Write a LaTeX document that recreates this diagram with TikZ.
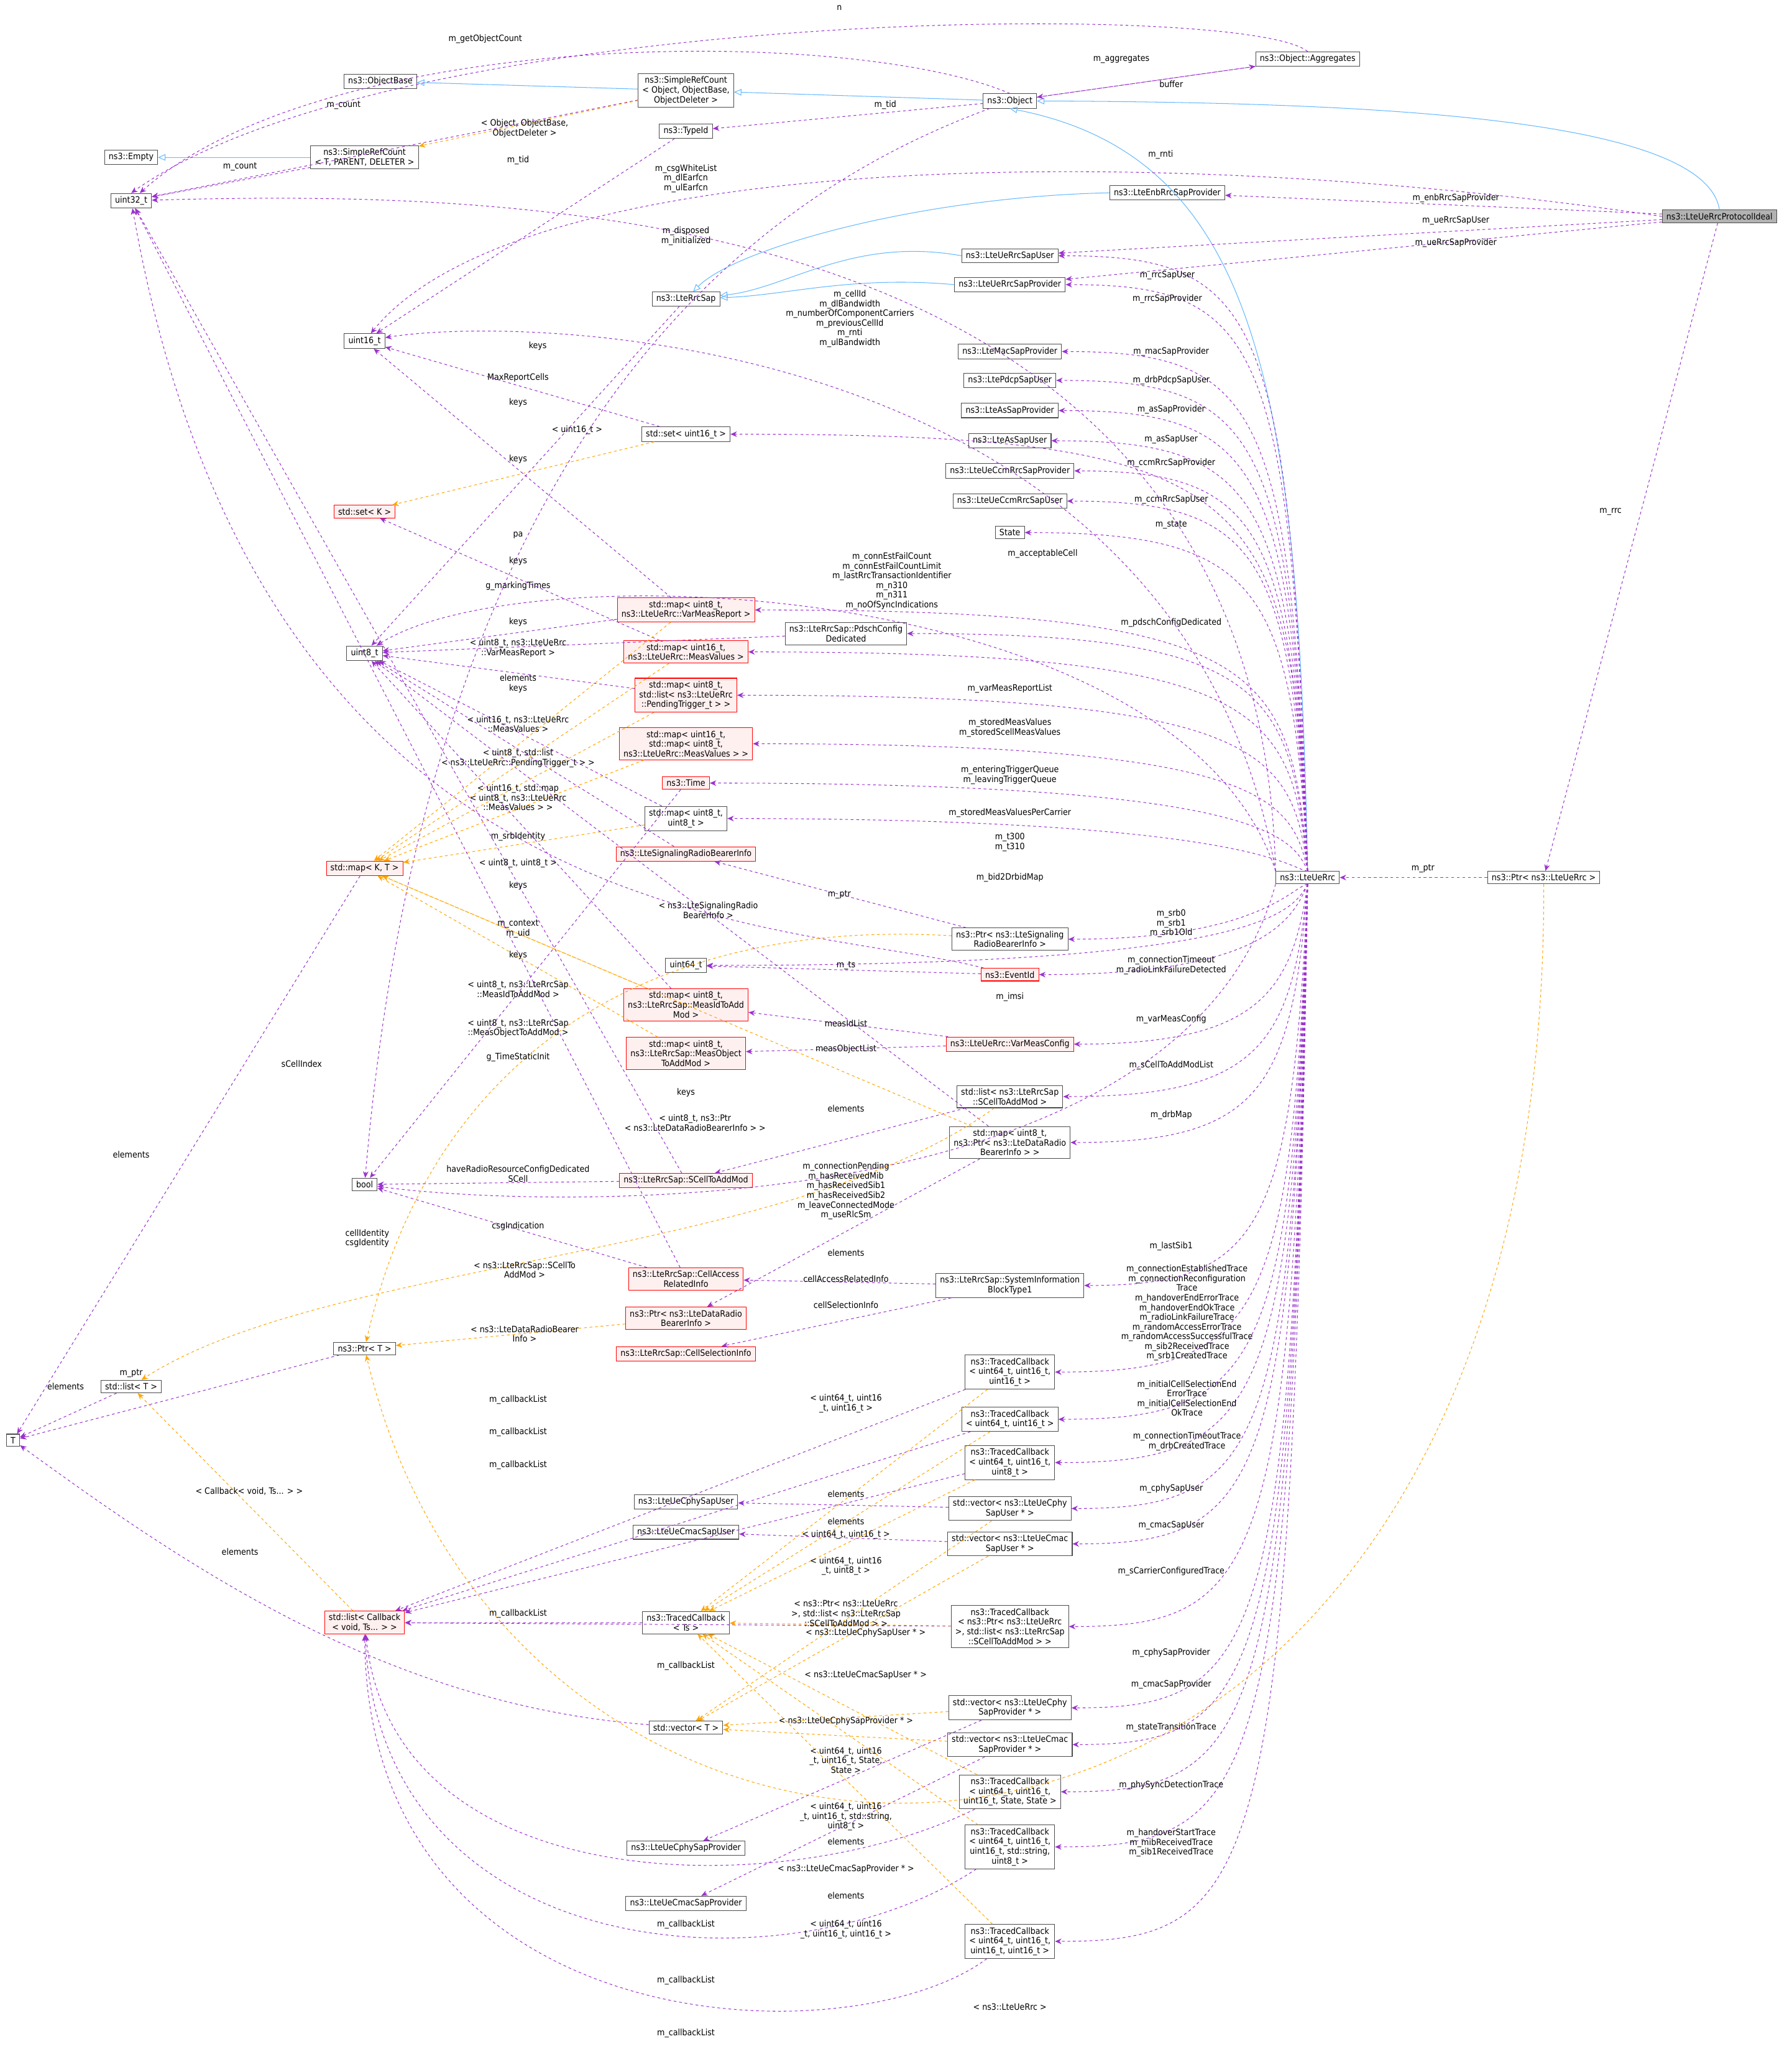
\documentclass[tikz,border=0pt]{standalone}
\usepackage{fontspec}
\setmainfont{DejaVu Sans Condensed}
\usetikzlibrary{arrows.meta}
\definecolor{dpurple}{HTML}{9A32CD}
\definecolor{dorange}{HTML}{FFA500}
\definecolor{lblue}{HTML}{63B8FF}
\definecolor{pinkf}{HTML}{FFF0F0}
\newcommand{\nf}{\fontsize{9.5}{10.5}\selectfont}
\tikzset{
 box/.style={draw=gray!60!black, fill=white, font=\nf, inner xsep=4.5pt, inner ysep=3.2pt, align=center, line width=0.7pt},
 rbox/.style={box, draw=red, fill=pinkf},
 lb/.style={font=\nf, align=center, inner sep=1pt},
 mem/.style={draw=dpurple, dashed, line width=0.7pt, -{Stealth[length=7pt,width=6pt]}},
 tmpl/.style={draw=dorange, dashed, line width=0.7pt, -{Stealth[length=7pt,width=6pt]}},
 inh/.style={draw=lblue, line width=0.7pt, -{Triangle[open,length=8pt,width=7pt]}},
}
\begin{document}
\begin{tikzpicture}[x=0.05cm,y=-0.05cm]
\useasboundingbox (0,0) rectangle (1366,1572);
% nodes
\node[box] (agg) at (997,45) {ns3::Object::Aggregates};
\node[box] (obj) at (770,77) {ns3::Object};
\node[box] (src) at (523,69) {ns3::SimpleRefCount\\< Object, ObjectBase,\\ObjectDeleter >};
\node[box] (ob) at (290,62) {ns3::ObjectBase};
\node[box] (empty) at (100,120) {ns3::Empty};
\node[box] (u32) at (100,153) {uint32\_t};
\node[box] (srt) at (278,120) {ns3::SimpleRefCount\\< T, PARENT, DELETER >};
\node[box] (tid) at (523,100) {ns3::TypeId};
\node[box] (enb) at (890,147) {ns3::LteEnbRrcSapProvider};
\node[box, fill=gray!60] (prot) at (1311,165) {ns3::LteUeRrcProtocolIdeal};
\node[box] (usu) at (770,195) {ns3::LteUeRrcSapUser};
\node[box] (sap) at (523,228) {ns3::LteRrcSap};
\node[box] (usp) at (770,217) {ns3::LteUeRrcSapProvider};
\node[box] (u16) at (278,260) {uint16\_t};
\node[box] (mac) at (770,268) {ns3::LteMacSapProvider};
\node[box] (pdcp) at (770,290) {ns3::LtePdcpSapUser};
\node[box] (asp) at (770,313) {ns3::LteAsSapProvider};
\node[box] (asu) at (770,336) {ns3::LteAsSapUser};
\node[box] (set16) at (523,331) {std::set< uint16\_t >};
\node[box] (ccmp) at (770,359) {ns3::LteUeCcmRrcSapProvider};
\node[box] (ccmu) at (770,382) {ns3::LteUeCcmRrcSapUser};
\node[rbox] (setk) at (278,390) {std::set< K >};
\node[box] (state) at (770,406) {State};
\node[rbox] (mvmr) at (523,465) {std::map< uint8\_t,\\ns3::LteUeRrc::VarMeasReport >};
\node[box] (pdsch) at (645,483) {ns3::LteRrcSap::PdschConfig\\Dedicated};
\node[box] (u8) at (278,498) {uint8\_t};
\node[rbox] (mmv) at (523,497) {std::map< uint16\_t,\\ns3::LteUeRrc::MeasValues >};
\node[rbox] (mpt) at (523,530) {std::map< uint8\_t,\\std::list< ns3::LteUeRrc\\::PendingTrigger\_t > >};
\node[rbox] (mmm) at (523,567) {std::map< uint16\_t,\\std::map< uint8\_t,\\ns3::LteUeRrc::MeasValues > >};
\node[rbox] (time) at (523,597) {ns3::Time};
\node[box] (m88) at (523,624) {std::map< uint8\_t,\\uint8\_t >};
\node[rbox] (mapkt) at (278,662) {std::map< K, T >};
\node[rbox] (srbi) at (523,651) {ns3::LteSignalingRadioBearerInfo};
\node[box] (rrc) at (997,669) {ns3::LteUeRrc};
\node[box] (prrc) at (1177,669) {ns3::Ptr< ns3::LteUeRrc >};
\node[box] (psrb) at (770,716) {ns3::Ptr< ns3::LteSignaling\\RadioBearerInfo >};
\node[box] (u64) at (523,736) {uint64\_t};
\node[rbox] (evt) at (770,743) {ns3::EventId};
\node[rbox] (mmid) at (523,766) {std::map< uint8\_t,\\ns3::LteRrcSap::MeasIdToAdd\\Mod >};
\node[rbox] (vmc) at (770,796) {ns3::LteUeRrc::VarMeasConfig};
\node[rbox] (mmo) at (523,803) {std::map< uint8\_t,\\ns3::LteRrcSap::MeasObject\\ToAddMod >};
\node[box] (lsc) at (770,836) {std::list< ns3::LteRrcSap\\::SCellToAddMod >};
\node[box] (mdrb) at (770,871) {std::map< uint8\_t,\\ns3::Ptr< ns3::LteDataRadio\\BearerInfo > >};
\node[box] (bool) at (278,903) {bool};
\node[rbox] (sc) at (523,900) {ns3::LteRrcSap::SCellToAddMod};
\node[rbox] (cari) at (523,975) {ns3::LteRrcSap::CellAccess\\RelatedInfo};
\node[box] (sib1) at (770,980) {ns3::LteRrcSap::SystemInformation\\BlockType1};
\node[rbox] (pdrb) at (523,1005) {ns3::Ptr< ns3::LteDataRadio\\BearerInfo >};
\node[rbox] (csi) at (523,1032) {ns3::LteRrcSap::CellSelectionInfo};
\node[box] (T) at (10,1098) {T};
\node[box] (ptrT) at (278,1028) {ns3::Ptr< T >};
\node[box] (listT) at (100,1057) {std::list< T >};
\node[box] (tc1) at (770,1046) {ns3::TracedCallback\\< uint64\_t, uint16\_t,\\uint16\_t >};
\node[box] (tc2) at (770,1082) {ns3::TracedCallback\\< uint64\_t, uint16\_t >};
\node[box] (tc3) at (770,1115) {ns3::TracedCallback\\< uint64\_t, uint16\_t,\\uint8\_t >};
\node[box] (cphyu) at (523,1145) {ns3::LteUeCphySapUser};
\node[box] (vcphyu) at (770,1150) {std::vector< ns3::LteUeCphy\\SapUser * >};
\node[box] (cmacu) at (523,1168) {ns3::LteUeCmacSapUser};
\node[box] (vcmacu) at (770,1177) {std::vector< ns3::LteUeCmac\\SapUser * >};
\node[rbox] (lcb) at (278,1237) {std::list< Callback\\< void, Ts... > >};
\node[box] (tcts) at (523,1237) {ns3::TracedCallback\\< Ts >};
\node[box] (tcp) at (770,1240) {ns3::TracedCallback\\< ns3::Ptr< ns3::LteUeRrc\\>, std::list< ns3::LteRrcSap\\::SCellToAddMod > >};
\node[box] (vecT) at (523,1317) {std::vector< T >};
\node[box] (vcphyp) at (770,1302) {std::vector< ns3::LteUeCphy\\SapProvider * >};
\node[box] (vcmacp) at (770,1330) {std::vector< ns3::LteUeCmac\\SapProvider * >};
\node[box] (tcs) at (770,1366) {ns3::TracedCallback\\< uint64\_t, uint16\_t,\\uint16\_t, State, State >};
\node[box] (tcstr) at (770,1408) {ns3::TracedCallback\\< uint64\_t, uint16\_t,\\uint16\_t, std::string,\\uint8\_t >};
\node[box] (cphyp) at (523,1409) {ns3::LteUeCphySapProvider};
\node[box] (cmacp) at (523,1451) {ns3::LteUeCmacSapProvider};
\node[box] (tc4) at (770,1480) {ns3::TracedCallback\\< uint64\_t, uint16\_t,\\uint16\_t, uint16\_t >};

% inheritance
\draw[inh] (src) -- (ob);
\draw[inh] (obj) -- (src);
\draw[inh] (srt) -- (empty);
\draw[inh] (prot.north) .. controls (1300,90) and (1050,78) .. (obj.east);
\draw[inh] (rrc.north) .. controls (990,300) and (960,120) .. (obj.south);
\draw[inh] (enb.west) .. controls (700,150) and (560,190) .. (sap);
\draw[inh] (usu.west) .. controls (650,180) and (600,220) .. (sap);
\draw[inh] (usp.west) .. controls (650,210) and (600,225) .. (sap);

% top members
\draw[mem] (agg.north) .. controls (950,0) and (300,5) .. (u32.north);
\draw[mem] (obj.north) .. controls (650,20) and (250,20) .. (u32);
\draw[mem] (obj) -- (agg);
\draw[mem] (agg) -- (obj);
\draw[mem] (obj) -- (tid);
\draw[mem] (obj) .. controls (600,140) and (330,300) .. (bool);
\draw[mem] (src) -- (u32);
\draw[mem] (srt) -- (u32);
\draw[tmpl] (src) -- (srt);
\draw[mem] (tid) -- (u16);
\draw[mem] (prot) -- (prrc);
\draw[mem] (prrc) -- (rrc);
\draw[mem] (prot.west) .. controls (900,110) and (400,110) .. (u16);
\draw[mem] (prot) -- (enb);
\draw[mem] (prot) -- (usu);
\draw[mem] (prot) -- (usp);

% LteUeRrc members
\draw[mem] (rrc.north west) .. controls (960,150) and (400,145) .. (u32);
\foreach \t/\y in {usu/195,usp/217,mac/268,pdcp/290,asp/313,asu/336,ccmp/359,ccmu/382,state/406,set16/331,pdsch/483,mvmr/465,mmv/497,mpt/530,mmm/567,time/597,m88/624}
  \draw[mem] (rrc.north) .. controls (985,\y+40) and (960,\y) .. (\t.east);
\foreach \t/\y in {psrb/716,evt/743,u64/736,vmc/796,lsc/836,mdrb/871,sib1/980,tc1/1046,tc2/1082,tc3/1115,vcphyu/1150,vcmacu/1177,tcp/1240,vcphyp/1302,vcmacp/1330,tcs/1366,tcstr/1408,tc4/1480}
  \draw[mem] (rrc.south) .. controls (985,\y-40) and (960,\y) .. (\t.east);
\draw[mem] (rrc.north west) .. controls (900,250) and (400,240) .. (u16);
\draw[mem] (rrc.north west) .. controls (900,440) and (400,420) .. (u8);
\draw[mem] (rrc.south west) .. controls (900,940) and (400,920) .. (bool);

% misc members
\draw[mem] (set16) -- (u16);
\draw[tmpl] (set16) -- (setk);
\draw[mem] (sap) -- (u8);
\draw[mem] (mvmr) -- (u16);
\draw[mem] (mmv) -- (setk);
\draw[mem] (pdsch) -- (u8);
\draw[mem] (mvmr) -- (u8);
\draw[mem] (time) -- (bool);
\draw[mem] (mpt) -- (u8);
\draw[mem] (m88) -- (u8);
\draw[tmpl] (mvmr) -- (mapkt);
\draw[tmpl] (mmv) -- (mapkt);
\draw[tmpl] (mpt) -- (mapkt);
\draw[tmpl] (mmm) -- (mapkt);
\draw[mem] (srbi) -- (u8);
\draw[tmpl] (m88) -- (mapkt);
\draw[mem] (mmid) -- (u8);
\draw[mem] (evt) .. controls (600,700) and (200,720) .. (u32);
\draw[tmpl] (psrb) .. controls (500,700) and (330,800) .. (ptrT);
\draw[mem] (psrb) -- (srbi);
\draw[mem] (evt) -- (u64);
\draw[tmpl] (mmid) -- (mapkt);
\draw[tmpl] (mmo) -- (mapkt);
\draw[mem] (vmc) -- (mmid);
\draw[mem] (vmc) -- (mmo);
\draw[mem] (mdrb) -- (u8);
\draw[mem] (sc) -- (u32);
\draw[tmpl] (mdrb) -- (mapkt);
\draw[mem] (lsc) -- (sc);
\draw[mem] (sc) -- (bool);
\draw[mem] (cari) -- (bool);
\draw[mem] (cari) -- (u32);
\draw[mem] (mdrb) -- (pdrb);
\draw[mem] (sib1) -- (cari);
\draw[mem] (sib1) -- (csi);
\draw[tmpl] (lsc) .. controls (600,960) and (250,960) .. (listT);
\draw[tmpl] (pdrb) -- (ptrT);
\draw[mem] (mapkt) -- (T);
\draw[mem] (ptrT) -- (T);
\draw[mem] (listT) -- (T);
\draw[tmpl] (lcb) -- (listT);
\draw[mem] (vecT) .. controls (300,1300) and (150,1200) .. (T);
\draw[mem] (tcts) -- (lcb);
\draw[mem] (tc1) -- (lcb);
\draw[mem] (tc2) -- (lcb);
\draw[mem] (tc3) -- (lcb);
\draw[mem] (tcp) -- (lcb);
\draw[mem] (tcs) .. controls (600,1450) and (300,1450) .. (lcb);
\draw[mem] (tcstr) .. controls (600,1520) and (290,1500) .. (lcb);
\draw[mem] (tc4) .. controls (650,1570) and (280,1560) .. (lcb);
\draw[mem] (vcphyu) -- (cphyu);
\draw[mem] (vcmacu) -- (cmacu);
\draw[mem] (vcphyp) -- (cphyp);
\draw[mem] (vcmacp) -- (cmacp);
\draw[tmpl] (tc1) -- (tcts);
\draw[tmpl] (tc2) -- (tcts);
\draw[tmpl] (tc3) -- (tcts);
\draw[tmpl] (tcp) -- (tcts);
\draw[tmpl] (vcphyu) -- (vecT);
\draw[tmpl] (vcmacu) -- (vecT);
\draw[tmpl] (vcphyp) -- (vecT);
\draw[tmpl] (tcs) -- (tcts);
\draw[tmpl] (tcstr) -- (tcts);
\draw[tmpl] (vcmacp) -- (vecT);
\draw[tmpl] (tc4) -- (tcts);
\draw[tmpl] (prrc) .. controls (1180,1530) and (400,1540) .. (ptrT);

% labels
\node[lb] at (640,6) {n};
\node[lb] at (370,30) {m\_getObjectCount};
\node[lb] at (855,45) {m\_aggregates};
\node[lb] at (893,64) {buffer};
\node[lb] at (675,80) {m\_tid};
\node[lb] at (523,180) {m\_disposed\\m\_initialized};
\node[lb] at (262,80) {m\_count};
\node[lb] at (183,127) {m\_count};
\node[lb] at (400,98) {< Object, ObjectBase,\\ObjectDeleter >};
\node[lb] at (395,122) {m\_tid};
\node[lb] at (1228,390) {m\_rrc};
\node[lb] at (1085,662) {m\_ptr};
\node[lb] at (885,118) {m\_rnti};
\node[lb] at (1110,151) {m\_enbRrcSapProvider};
\node[lb] at (1110,168) {m\_ueRrcSapUser};
\node[lb] at (1110,185) {m\_ueRrcSapProvider};
\node[lb] at (523,136) {m\_csgWhiteList\\m\_dlEarfcn\\m\_ulEarfcn};
\node[lb] at (890,210) {m\_rrcSapUser};
\node[lb] at (890,228) {m\_rrcSapProvider};
\node[lb] at (648,243) {m\_cellId\\m\_dlBandwidth\\m\_numberOfComponentCarriers\\m\_previousCellId\\m\_rnti\\m\_ulBandwidth};
\node[lb] at (893,268) {m\_macSapProvider};
\node[lb] at (893,290) {m\_drbPdcpSapUser};
\node[lb] at (893,312) {m\_asSapProvider};
\node[lb] at (893,335) {m\_asSapUser};
\node[lb] at (893,353) {m\_ccmRrcSapProvider};
\node[lb] at (893,381) {m\_ccmRrcSapUser};
\node[lb] at (893,400) {m\_state};
\node[lb] at (795,422) {m\_acceptableCell};
\node[lb] at (680,443) {m\_connEstFailCount\\m\_connEstFailCountLimit\\m\_lastRrcTransactionIdentifier\\m\_n310\\m\_n311\\m\_noOfSyncIndications};
\node[lb] at (893,475) {m\_pdschConfigDedicated};
\node[lb] at (770,525) {m\_varMeasReportList};
\node[lb] at (770,555) {m\_storedMeasValues\\m\_storedScellMeasValues};
\node[lb] at (770,591) {m\_enteringTriggerQueue\\m\_leavingTriggerQueue};
\node[lb] at (770,620) {m\_storedMeasValuesPerCarrier};
\node[lb] at (770,642) {m\_t300\\m\_t310};
\node[lb] at (770,669) {m\_bid2DrbidMap};
\node[lb] at (893,704) {m\_srb0\\m\_srb1\\m\_srb1Old};
\node[lb] at (893,736) {m\_connectionTimeout\\m\_radioLinkFailureDetected};
\node[lb] at (770,760) {m\_imsi};
\node[lb] at (893,777) {m\_varMeasConfig};
\node[lb] at (893,812) {m\_sCellToAddModList};
\node[lb] at (893,850) {m\_drbMap};
\node[lb] at (645,908) {m\_connectionPending\\m\_hasReceivedMib\\m\_hasReceivedSib1\\m\_hasReceivedSib2\\m\_leaveConnectedMode\\m\_useRlcSm};
\node[lb] at (893,950) {m\_lastSib1};
\node[lb] at (905,1001) {m\_connectionEstablishedTrace\\m\_connectionReconfiguration\\Trace\\m\_handoverEndErrorTrace\\m\_handoverEndOkTrace\\m\_radioLinkFailureTrace\\m\_randomAccessErrorTrace\\m\_randomAccessSuccessfulTrace\\m\_sib2ReceivedTrace\\m\_srb1CreatedTrace};
\node[lb] at (905,1066) {m\_initialCellSelectionEnd\\ErrorTrace\\m\_initialCellSelectionEnd\\OkTrace};
\node[lb] at (905,1099) {m\_connectionTimeoutTrace\\m\_drbCreatedTrace};
\node[lb] at (893,1135) {m\_cphySapUser};
\node[lb] at (893,1163) {m\_cmacSapUser};
\node[lb] at (893,1198) {m\_sCarrierConfiguredTrace};
\node[lb] at (893,1260) {m\_cphySapProvider};
\node[lb] at (893,1284) {m\_cmacSapProvider};
\node[lb] at (893,1317) {m\_stateTransitionTrace};
\node[lb] at (893,1361) {m\_phySyncDetectionTrace};
\node[lb] at (893,1405) {m\_handoverStartTrace\\m\_mibReceivedTrace\\m\_sib1ReceivedTrace};
\node[lb] at (410,264) {keys};
\node[lb] at (440,328) {< uint16\_t >};
\node[lb] at (395,288) {MaxReportCells};
\node[lb] at (395,307) {keys};
\node[lb] at (395,350) {keys};
\node[lb] at (395,408) {pa};
\node[lb] at (395,428) {keys};
\node[lb] at (395,447) {g\_markingTimes};
\node[lb] at (395,474) {keys};
\node[lb] at (395,494) {< uint8\_t, ns3::LteUeRrc\\::VarMeasReport >};
\node[lb] at (395,521) {elements\\keys};
\node[lb] at (395,552) {< uint16\_t, ns3::LteUeRrc\\::MeasValues >};
\node[lb] at (395,578) {< uint8\_t, std::list\\< ns3::LteUeRrc::PendingTrigger\_t > >};
\node[lb] at (395,608) {< uint16\_t, std::map\\< uint8\_t, ns3::LteUeRrc\\::MeasValues > >};
\node[lb] at (395,638) {m\_srbIdentity};
\node[lb] at (395,658) {< uint8\_t, uint8\_t >};
\node[lb] at (395,675) {keys};
\node[lb] at (395,708) {m\_context\\m\_uid};
\node[lb] at (540,694) {< ns3::LteSignalingRadio\\BearerInfo >};
\node[lb] at (640,682) {m\_ptr};
\node[lb] at (645,736) {m\_ts};
\node[lb] at (395,728) {keys};
\node[lb] at (395,754) {< uint8\_t, ns3::LteRrcSap\\::MeasIdToAddMod >};
\node[lb] at (395,784) {< uint8\_t, ns3::LteRrcSap\\::MeasObjectToAddMod >};
\node[lb] at (645,780) {measIdList};
\node[lb] at (645,800) {measObjectList};
\node[lb] at (523,833) {keys};
\node[lb] at (395,806) {g\_TimeStaticInit};
\node[lb] at (230,811) {sCellIndex};
\node[lb] at (530,856) {< uint8\_t, ns3::Ptr\\< ns3::LteDataRadioBearerInfo > >};
\node[lb] at (645,845) {elements};
\node[lb] at (395,895) {haveRadioResourceConfigDedicated\\SCell};
\node[lb] at (395,935) {csgIndication};
\node[lb] at (280,944) {cellIdentity\\csgIdentity};
\node[lb] at (645,955) {elements};
\node[lb] at (645,975) {cellAccessRelatedInfo};
\node[lb] at (645,995) {cellSelectionInfo};
\node[lb] at (400,968) {< ns3::LteRrcSap::SCellTo\\AddMod >};
\node[lb] at (400,1017) {< ns3::LteDataRadioBearer\\Info >};
\node[lb] at (100,880) {elements};
\node[lb] at (100,1047) {m\_ptr};
\node[lb] at (50,1057) {elements};
\node[lb] at (190,1137) {< Callback< void, Ts... > >};
\node[lb] at (183,1183) {elements};
\node[lb] at (395,1230) {m\_callbackList};
\node[lb] at (395,1067) {m\_callbackList};
\node[lb] at (395,1092) {m\_callbackList};
\node[lb] at (395,1117) {m\_callbackList};
\node[lb] at (523,1270) {m\_callbackList};
\node[lb] at (523,1467) {m\_callbackList};
\node[lb] at (523,1510) {m\_callbackList};
\node[lb] at (523,1550) {m\_callbackList};
\node[lb] at (645,1139) {elements};
\node[lb] at (645,1160) {elements};
\node[lb] at (645,1404) {elements};
\node[lb] at (645,1445) {elements};
\node[lb] at (645,1070) {< uint64\_t, uint16\\\_t, uint16\_t >};
\node[lb] at (645,1170) {< uint64\_t, uint16\_t >};
\node[lb] at (645,1194) {< uint64\_t, uint16\\\_t, uint8\_t >};
\node[lb] at (645,1230) {< ns3::Ptr< ns3::LteUeRrc\\>, std::list< ns3::LteRrcSap\\::SCellToAddMod > >};
\node[lb] at (660,1245) {< ns3::LteUeCphySapUser * >};
\node[lb] at (660,1277) {< ns3::LteUeCmacSapUser * >};
\node[lb] at (645,1312) {< ns3::LteUeCphySapProvider * >};
\node[lb] at (645,1342) {< uint64\_t, uint16\\\_t, uint16\_t, State,\\State >};
\node[lb] at (645,1385) {< uint64\_t, uint16\\\_t, uint16\_t, std::string,\\uint8\_t >};
\node[lb] at (645,1425) {< ns3::LteUeCmacSapProvider * >};
\node[lb] at (645,1471) {< uint64\_t, uint16\\\_t, uint16\_t, uint16\_t >};
\node[lb] at (770,1530) {< ns3::LteUeRrc >};
\end{tikzpicture}
\end{document}
